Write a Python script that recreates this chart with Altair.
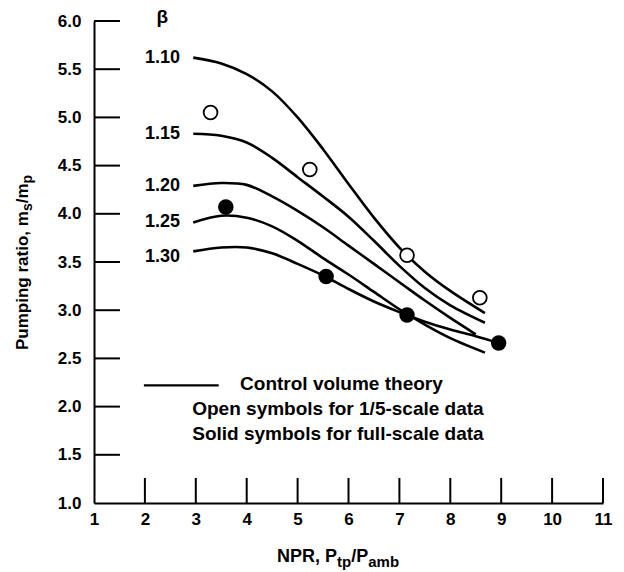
import altair as alt
import pandas as pd

# ---- data ----
beta_values = ["1.10", "1.15", "1.20", "1.25", "1.30"]

npr_110 = [2.95, 3.5, 4.0, 4.5, 5.0, 5.5, 6.0, 6.5, 7.0, 7.5, 8.0, 8.68]
pr_110 = [5.62, 5.56, 5.45, 5.27, 5.00, 4.67, 4.31, 3.96, 3.65, 3.40, 3.20, 2.97]

npr_115 = [2.95, 3.5, 4.0, 4.5, 5.0, 5.5, 6.0, 6.5, 7.0, 7.5, 8.0, 8.68]
pr_115 = [4.83, 4.81, 4.74, 4.58, 4.38, 4.18, 3.97, 3.72, 3.46, 3.23, 3.05, 2.87]

npr_120 = [2.95, 3.5, 4.0, 4.5, 5.0, 5.5, 6.0, 6.5, 7.0, 7.5, 8.0, 8.5]
pr_120 = [4.29, 4.32, 4.30, 4.18, 4.03, 3.86, 3.67, 3.48, 3.29, 3.10, 2.92, 2.75]

npr_125 = [2.95, 3.5, 4.0, 4.5, 5.0, 5.5, 6.0, 6.5, 7.0, 7.5, 8.0, 8.68]
pr_125 = [3.91, 3.98, 3.96, 3.87, 3.72, 3.54, 3.37, 3.19, 3.01, 2.85, 2.71, 2.56]

npr_130 = [2.95, 3.5, 4.0, 4.5, 5.0, 5.5, 6.0, 6.5, 7.0, 7.5, 8.0, 8.5, 8.95]
pr_130 = [3.61, 3.65, 3.65, 3.59, 3.48, 3.36, 3.22, 3.09, 2.98, 2.88, 2.80, 2.73, 2.66]

open_npr = [3.29, 5.24, 7.15, 8.58]
open_pr = [5.05, 4.46, 3.57, 3.13]

solid_npr = [3.59, 5.56, 7.15, 8.95]
solid_pr = [4.07, 3.35, 2.95, 2.66]

x_ticks = [1, 2, 3, 4, 5, 6, 7, 8, 9, 10, 11]
y_ticks = [1.0, 1.5, 2.0, 2.5, 3.0, 3.5, 4.0, 4.5, 5.0, 5.5, 6.0]

legend_lines = [
    "Control volume theory",
    "Open symbols for 1/5-scale data",
    "Solid symbols for full-scale data",
]

# ---- tables built from the arrays ----
rows = []
for b, xs, ys in zip(beta_values,
                     [npr_110, npr_115, npr_120, npr_125, npr_130],
                     [pr_110, pr_115, pr_120, pr_125, pr_130]):
    for i, (x, y) in enumerate(zip(xs, ys)):
        rows.append({"beta": b, "npr": x, "ratio": y, "order": i})
curves = pd.DataFrame(rows)
open_df = pd.DataFrame({"npr": open_npr, "ratio": open_pr})
solid_df = pd.DataFrame({"npr": solid_npr, "ratio": solid_pr})

# label placement (annotation positions)
label_x = 2.69
label_y = [5.62, 4.83, 4.29, 3.91, 3.55]
labels_df = pd.DataFrame({"npr": [label_x] * 5, "ratio": label_y, "txt": beta_values})
beta_df = pd.DataFrame({"npr": [2.34], "ratio": [6.04], "txt": ["β"]})

ytick_df = pd.DataFrame({"ratio": y_ticks[1:], "npr": [1.0] * 10, "npr2": [1.51] * 10})
xtick_df = pd.DataFrame({"npr": x_ticks[1:], "ratio": [1.0] * 10, "ratio2": [1.26] * 10})

leg_line_df = pd.DataFrame({"npr": [1.98], "npr2": [3.45], "ratio": [2.22]})
leg_text_df = pd.DataFrame({"npr": [3.87, 2.93, 2.93], "ratio": [2.23, 1.98, 1.72], "txt": legend_lines})

FONT = "Liberation Sans"

xscale = alt.Scale(domain=[1, 11], nice=False, zero=False)
yscale = alt.Scale(domain=[1, 6], nice=False, zero=False)

X = alt.X("npr:Q", scale=xscale, title=None,
          axis=alt.Axis(values=x_ticks, format="d", ticks=False, grid=False,
                        labelFont=FONT, labelFontWeight="bold", labelFontSize=17,
                        labelColor="black", labelPadding=8, domainColor="black",
                        domainWidth=2, labelFlush=False))
Y = alt.Y("ratio:Q", scale=yscale, title=None,
          axis=alt.Axis(values=y_ticks, format=".1f", ticks=False, grid=False,
                        labelFont=FONT, labelFontWeight="bold", labelFontSize=17,
                        labelColor="black", labelPadding=13, domainColor="black",
                        domainWidth=2, labelFlush=False))

lines = alt.Chart(curves).mark_line(color="black", strokeWidth=2.6, interpolate="catmull-rom").encode(
    x=X, y=Y, detail="beta:N", order="order:Q")

open_pts = alt.Chart(open_df).mark_point(shape="circle", filled=True, fill="white",
                                         stroke="black", strokeWidth=1.8, size=190,
                                         opacity=1).encode(x=X, y=Y)
solid_pts = alt.Chart(solid_df).mark_point(shape="circle", filled=True, color="black",
                                           size=240, opacity=1).encode(x=X, y=Y)

yticks = alt.Chart(ytick_df).mark_rule(color="black", strokeWidth=2).encode(
    x=X, x2="npr2:Q", y=Y)
xticks = alt.Chart(xtick_df).mark_rule(color="black", strokeWidth=2).encode(
    x=X, y=Y, y2="ratio2:Q")

lbls = alt.Chart(labels_df).mark_text(align="right", baseline="middle", font=FONT,
                                      fontWeight="bold", fontSize=18, color="black").encode(
    x=X, y=Y, text="txt:N")
beta_t = alt.Chart(beta_df).mark_text(align="center", baseline="middle", font=FONT,
                                      fontWeight="bold", fontSize=19, color="black").encode(
    x=X, y=Y, text="txt:N")

leg_line = alt.Chart(leg_line_df).mark_rule(color="black", strokeWidth=2.4).encode(
    x=X, x2="npr2:Q", y=Y)
leg_text = alt.Chart(leg_text_df).mark_text(align="left", baseline="middle", font=FONT,
                                            fontWeight="bold", fontSize=19, color="black").encode(
    x=X, y=Y, text="txt:N")

# axis titles with subscripts (pixel positions relative to plot area)
def piece(txt, x, y, size, angle=0):
    return alt.Chart(pd.DataFrame({"t": [txt]})).mark_text(
        align="left", baseline="alphabetic", font=FONT, fontWeight="bold",
        fontSize=size, color="black", angle=angle).encode(
        x=alt.value(x), y=alt.value(y), text="t:N")

xt = [
    piece("NPR, P", 183, 541, 18),
    piece("tp", 243, 546, 15),
    piece("/P", 257.2, 541, 18),
    piece("amb", 274.2, 546, 15),
]
yt = [
    piece("Pumping ratio, m", -66, 329, 17, 270),
    piece("s", -62, 190.1, 14, 270),
    piece("/m", -66, 182.3, 17, 270),
    piece("p", -62, 162.5, 14, 270),
]

chart = alt.layer(
    lines, yticks, xticks, open_pts, solid_pts, lbls, beta_t, leg_line, leg_text, *xt, *yt
).properties(
    width=509, height=482,
    padding={"left": 94, "top": 21, "right": 21, "bottom": 69},
    autosize=alt.AutoSizeParams(type="none"),
    background="white",
).configure_view(stroke=None)

chart.save("out.html", embed_options={"renderer": "svg", "actions": False})
